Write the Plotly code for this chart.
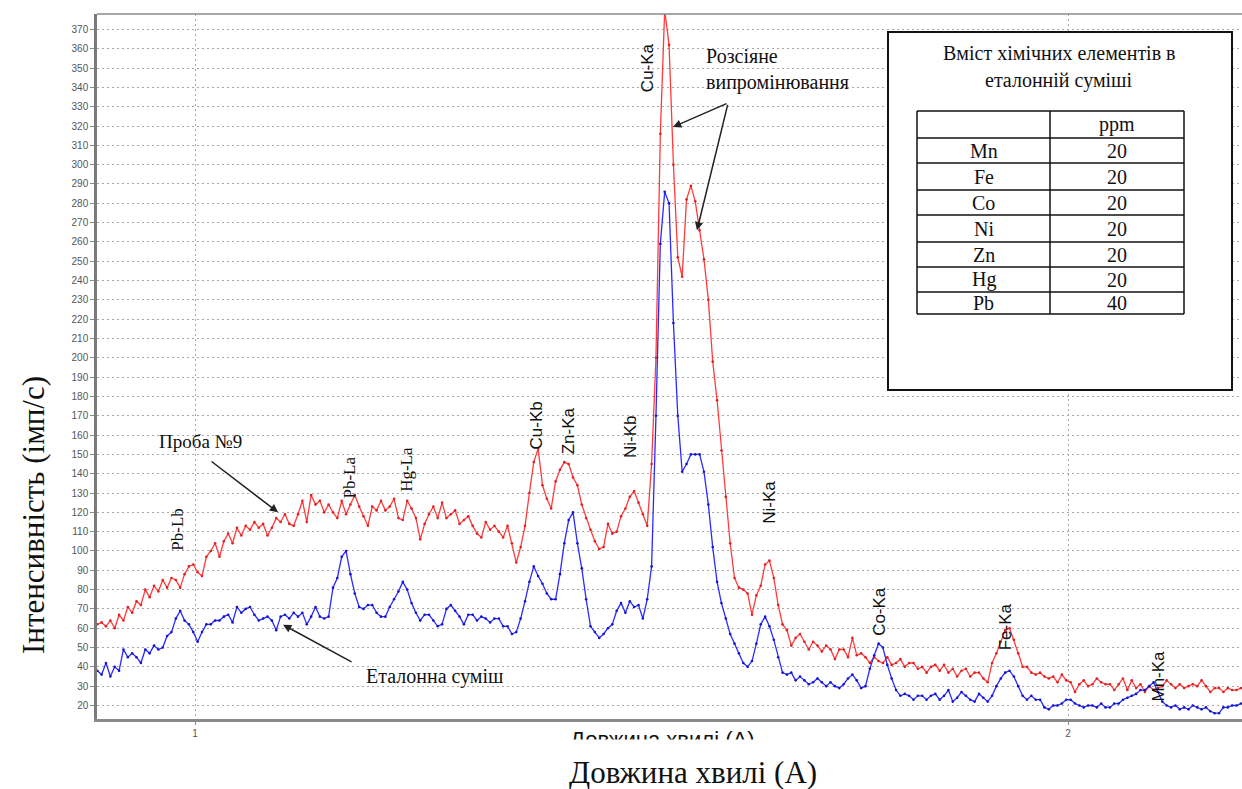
import numpy as np
import plotly.graph_objects as go

# Wavelength grid of the spectrometer scan (Angstrom)
WL_START = 0.888
WL_STEP = 0.005

# Intensity, counts per second: sample No.9
probe9 = [
    62, 63, 61, 64, 60, 67, 64, 71, 68, 74,
    72, 80, 76, 82, 79, 85, 81, 86, 85, 81,
    88, 92, 93, 89, 87, 97, 100, 104, 97, 105,
    109, 104, 112, 108, 113, 111, 115, 112, 114, 108,
    112, 117, 115, 119, 114, 113, 119, 126, 115, 129,
    124, 126, 120, 124, 120, 117, 126, 119, 124, 129,
    123, 118, 113, 123, 121, 126, 121, 123, 127, 117,
    116, 126, 122, 117, 106, 114, 119, 123, 117, 125,
    117, 119, 121, 114, 116, 118, 113, 109, 107, 115,
    111, 113, 110, 107, 113, 104, 94, 102, 113, 130,
    146, 153, 134, 127, 122, 136, 142, 146, 145, 138,
    134, 124, 117, 111, 105, 101, 102, 114, 109, 110,
    118, 122, 128, 131, 125, 119, 113, 145, 200, 316,
    380, 362, 300, 252, 242, 282, 289, 281, 266, 251,
    230, 198, 178, 152, 128, 104, 86, 81, 80, 78,
    67, 77, 82, 93, 95, 86, 72, 62, 59, 51,
    55, 57, 53, 49, 53, 51, 48, 51, 49, 44,
    49, 49, 45, 55, 46, 47, 45, 42, 45, 43,
    42, 45, 41, 42, 44, 40, 42, 42, 39, 40,
    37, 40, 41, 38, 41, 37, 39, 35, 38, 39,
    35, 37, 37, 34, 32, 42, 47, 53, 59, 60,
    54, 47, 40, 40, 37, 36, 37, 35, 34, 35,
    32, 36, 33, 32, 27, 31, 33, 30, 31, 34,
    32, 31, 31, 28, 31, 34, 28, 33, 29, 31,
    27, 30, 28, 29, 30, 33, 31, 29, 31, 29,
    30, 31, 30, 33, 30, 27, 29, 29, 27, 29,
    28, 28, 29,
]

# Intensity, counts per second: reference mixture
etalon = [
    38, 36, 42, 35, 40, 38, 49, 45, 47, 45,
    42, 49, 47, 51, 49, 50, 56, 58, 65, 69,
    64, 62, 58, 53, 58, 62, 62, 64, 64, 66,
    67, 63, 71, 68, 70, 71, 67, 64, 65, 66,
    64, 59, 66, 67, 65, 68, 66, 68, 62, 66,
    71, 66, 65, 66, 81, 86, 97, 100, 88, 78,
    71, 70, 72, 72, 68, 66, 66, 71, 75, 79,
    84, 80, 73, 68, 64, 67, 67, 64, 61, 62,
    70, 72, 69, 66, 62, 67, 67, 64, 66, 65,
    63, 65, 65, 61, 61, 57, 58, 65, 74, 84,
    92, 87, 83, 78, 75, 75, 88, 104, 116, 120,
    104, 91, 75, 61, 58, 55, 57, 60, 62, 69,
    73, 68, 74, 71, 72, 65, 75, 92, 170, 259,
    286, 280, 218, 170, 141, 145, 150, 150, 150, 141,
    124, 102, 84, 73, 65, 57, 52, 47, 42, 40,
    43, 52, 62, 66, 61, 54, 45, 37, 36, 37,
    33, 35, 33, 31, 32, 34, 32, 30, 32, 30,
    29, 31, 34, 36, 33, 29, 30, 39, 46, 52,
    50, 41, 34, 28, 25, 26, 25, 23, 25, 25,
    23, 25, 26, 23, 25, 28, 22, 24, 27, 25,
    23, 22, 26, 24, 22, 25, 30, 34, 37, 38,
    35, 30, 25, 23, 25, 23, 23, 19, 18, 20,
    20, 21, 23, 23, 21, 20, 19, 20, 20, 19,
    21, 19, 19, 21, 21, 23, 24, 25, 26, 28,
    28, 30, 32, 27, 22, 20, 19, 20, 18, 19,
    18, 20, 19, 18, 19, 17, 16, 16, 19, 19,
    20, 20, 21,
]

wavelength = np.round(WL_START + WL_STEP * np.arange(len(probe9)), 4)

# Emission line labels and where they sit (wavelength, intensity)
peak_labels = ["Pb-Lb", "Pb-La", "Hg-La", "Cu-Kb", "Zn-Ka", "Ni-Kb",
               "Cu-Ka", "Ni-Ka", "Co-Ka", "Fe-Ka", "Mn-Ka"]
peak_wl = [0.9805, 1.1775, 1.2428, 1.3906, 1.4273, 1.4983,
           1.5178, 1.6587, 1.7847, 1.9278, 2.1031]
peak_int = [111, 138, 142, 165, 162, 159, 350, 125, 68.5, 61, 35]
serif_labels = {"Pb-Lb", "Pb-La", "Hg-La"}

# Composition of the reference mixture
table_elements = ["Mn", "Fe", "Co", "Ni", "Zn", "Hg", "Pb"]
table_ppm = [20, 20, 20, 20, 20, 20, 40]

y_ticks = list(range(20, 380, 10))

W, H = 1242, 789
ML, MR, MT, MB = 97, 0, 14, 70
SERIF = "Liberation Serif, Times New Roman, serif"
SANS = "Liberation Sans, Arial, sans-serif"


def px(x):
    return (x - ML) / (W - ML - MR)


def py(y):
    return (H - MB - y) / (H - MT - MB)


def note(x, y, text, size, family=SERIF, ref="paper", **kw):
    d = dict(x=x, y=y, xref=ref, yref=ref, text=text, showarrow=False,
             xanchor="center", yanchor="middle",
             font=dict(family=family, size=size, color="#111"))
    d.update(kw)
    return d


def pointer(x, y, ax, ay):
    return dict(x=x, y=y, xref="x", yref="y", text="", showarrow=True,
                ax=ax, ay=ay, arrowhead=2, arrowsize=1.1, arrowwidth=1.5,
                arrowcolor="#222")


fig = go.Figure()
fig.add_trace(go.Scatter(
    x=wavelength, y=probe9, mode="lines+markers", name="Проба №9",
    line=dict(color="#ff3b3b", width=1.3),
    marker=dict(color="#e02020", size=2.6),
))
fig.add_trace(go.Scatter(
    x=wavelength, y=etalon, mode="lines+markers", name="Еталонна суміш",
    line=dict(color="#2a2aff", width=1.3),
    marker=dict(color="#1515c8", size=2.6),
))

annotations = []

# Peak labels, rotated
for name, wl, val in zip(peak_labels, peak_wl, peak_int):
    annotations.append(note(wl, val, name, 17,
                            family=SERIF if name in serif_labels else SANS,
                            ref="x", textangle=-90))
for a in annotations:
    a["yref"] = "y"

# Series captions with pointer arrows
annotations += [
    note(px(200), py(441), "Проба №9", 19),
    pointer(1.0951, 120, -68, -52),
    note(px(435), py(676), "Еталонна суміш", 20),
    pointer(1.1008, 61.8, 70, 38),
    note(px(704), py(69), "Розсіяне<br>випромінювання", 20,
         align="left", xanchor="left"),
    pointer(1.5475, 319.5, 55, -24),
    pointer(1.5750, 266, 31, -127),
]

# Inner axis caption, partly hidden below the frame
annotations += [
    note(px(662), py(725), "Довжина хвилі (А)", 22, family=SANS, yanchor="top"),
    dict(x=px(662), y=py(739), xref="paper", yref="paper", text=" ",
         showarrow=False, xanchor="center", yanchor="top", width=280, height=26,
         bgcolor="white"),
]

# Outer axis titles
annotations += [
    note(px(693), py(773), "Довжина хвилі (А)", 31),
    note(px(33), py(515), "Інтенсивність (імп/с)", 31, textangle=-90),
]

# Composition table box
shapes = [
    dict(type="line", xref="paper", yref="paper", x0=0, x1=1, y0=1, y1=1,
         line=dict(color="#8a8a8a", width=1.5), layer="above"),
    dict(type="rect", xref="paper", yref="paper", x0=px(888), x1=px(1232),
         y0=py(390), y1=py(32), line=dict(color="#111", width=2),
         fillcolor="white", layer="above"),
]
col_edges = [917, 1050, 1184]
row_edges = [111, 138, 163, 190, 215, 242, 267, 292, 314]
for cx in col_edges:
    shapes.append(dict(type="line", xref="paper", yref="paper",
                       x0=px(cx), x1=px(cx), y0=py(row_edges[0]), y1=py(row_edges[-1]),
                       line=dict(color="#111", width=1.5), layer="above"))
for ry in row_edges:
    shapes.append(dict(type="line", xref="paper", yref="paper",
                       x0=px(col_edges[0]), x1=px(col_edges[-1]), y0=py(ry), y1=py(ry),
                       line=dict(color="#111", width=1.5), layer="above"))

annotations += [
    note(px(1059), py(53), "Вміст хімічних елементів в", 20),
    note(px(1059), py(80), "еталонній суміші", 20),
    note(px((col_edges[1] + col_edges[2]) / 2), py(124), "ppm", 20),
]
for k, (el, val) in enumerate(zip(table_elements, table_ppm)):
    yc = (row_edges[k + 1] + row_edges[k + 2]) / 2
    annotations.append(note(px((col_edges[0] + col_edges[1]) / 2), py(yc), el, 20))
    annotations.append(note(px((col_edges[1] + col_edges[2]) / 2), py(yc), str(val), 20))

grid_style = dict(showgrid=True, gridcolor="#a8a8a8", griddash="2px,3px", gridwidth=1)

fig.update_layout(
    width=W, height=H,
    margin=dict(l=ML, r=MR, t=MT, b=MB, pad=0),
    paper_bgcolor="white", plot_bgcolor="white",
    showlegend=False,
    annotations=annotations,
    shapes=shapes,
    xaxis=dict(
        range=[0.8877, 2.1993], tickvals=[1, 2], ticktext=["1", "2"],
        showline=True, linecolor="#8a8a8a", linewidth=3,
        ticks="outside", ticklen=3, tickcolor="#8a8a8a",
        tickfont=dict(family=SANS, size=10, color="#555"),
        zeroline=False, **grid_style,
    ),
    yaxis=dict(
        range=[13, 378], tickvals=y_ticks,
        showline=True, linecolor="#7a7a7a", linewidth=2.5,
        ticks="outside", ticklen=4, tickcolor="#8a8a8a",
        tickfont=dict(family=SANS, size=10, color="#555"),
        zeroline=False, **grid_style,
    ),
)

fig.write_html("out.html")
